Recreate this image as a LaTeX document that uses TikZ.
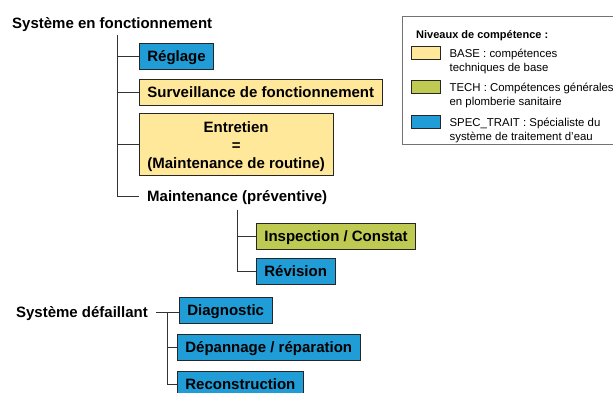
\documentclass[tikz,border=0pt]{standalone}
\usepackage{fontspec}
\setmainfont{Liberation Sans}
\usetikzlibrary{positioning}

\definecolor{baseyellow}{RGB}{255,232,154}
\definecolor{techgreen}{RGB}{190,202,82}
\definecolor{specblue}{RGB}{32,157,215}

\tikzset{
  task/.style={draw=black!85, line width=0.8pt, anchor=west, minimum height=26pt,
    inner xsep=8pt, font=\fontsize{15}{18}\selectfont\bfseries},
  flat/.style={text height=10.8pt, text depth=0pt},
  basebox/.style={task, flat, fill=baseyellow},
  techbox/.style={task, flat, fill=techgreen},
  specbox/.style={task, flat, fill=specblue},
  heading/.style={flat, font=\fontsize{15}{18}\selectfont\bfseries, inner sep=8pt},
  branch/.style={draw=black!80, line width=1pt},
  swatch/.style={draw=black!85, line width=0.8pt, minimum width=29pt,
    minimum height=13pt, inner sep=0pt},
  legtext/.style={font=\fontsize{11.4}{14}\selectfont, align=left, inner sep=0pt},
}

\begin{document}
\begin{tikzpicture}[x=1pt, y=-1pt]
\useasboundingbox (0,0) rectangle (613,392);
\clip (0,0) rectangle (613,392);

%% running system
\node[heading, anchor=west, inner sep=0pt] (run) at (12,23) {Système en fonctionnement};
\coordinate (runtop) at (117,35);
\node[specbox] (reglage) at (139,56) {Réglage};
\node[basebox] (surv) at (139,92) {Surveillance de fonctionnement};
\node[task, fill=baseyellow, align=center, inner ysep=0pt, minimum height=62pt,
  text height=50pt, text depth=1.2pt] (entretien) at (139,144)
  {Entretien\\=\\(Maintenance de routine)};
\node[heading, anchor=west] (prev) at (139,196) {Maintenance (préventive)};
\foreach \n in {reglage, surv, entretien, prev}
  \draw[branch] (runtop) |- (\n.west);

%% preventive maintenance
\coordinate (prevfoot) at (prev.south);
\node[techbox] (inspect) at (256,236) {Inspection / Constat};
\node[specbox] (revision) at (256,271) {Révision};
\draw[branch] (prevfoot) |- (inspect.west);
\draw[branch] (prevfoot) |- (revision.west);

%% failed system
\node[heading, anchor=east] (fail) at (156,312) {Système défaillant};
\node[specbox] (diag) at (179,310) {Diagnostic};
\node[specbox] (repair) at (177,347) {Dépannage / réparation};
\node[specbox] (rebuild) at (177,384) {Reconstruction};
\coordinate (failfork) at (167,312);
\draw[branch] (fail.east) -- (failfork -| diag.west);
\draw[branch] (failfork) |- (repair.west);
\draw[branch] (failfork) |- (rebuild.west);

%% legend
\draw[draw=black!55, line width=1pt] (402,16) rectangle (625,144);
\node[font=\fontsize{11}{13}\selectfont\bfseries, text height=8pt, text depth=0pt,
  anchor=west, inner sep=0pt] (legtitle) at (416,34) {Niveaux de compétence :};
\node[swatch, fill=baseyellow] (sbase) at (425.5,52.5) {};
\node[swatch, fill=techgreen] (stech) at (425.5,86.5) {};
\node[swatch, fill=specblue] (sspec) at (425.5,121.5) {};
\node[legtext, right=9pt of sbase.north east, anchor=north west, yshift=-3pt] (tbase)
  {BASE : compétences\\techniques de base};
\node[legtext, right=9pt of stech.north east, anchor=north west, yshift=-3pt] (ttech)
  {TECH : Compétences générales\\en plomberie sanitaire};
\node[legtext, right=9pt of sspec.north east, anchor=north west, yshift=-3pt] (tspec)
  {SPEC\_TRAIT : Spécialiste du\\système de traitement d’eau};
\end{tikzpicture}
\end{document}
